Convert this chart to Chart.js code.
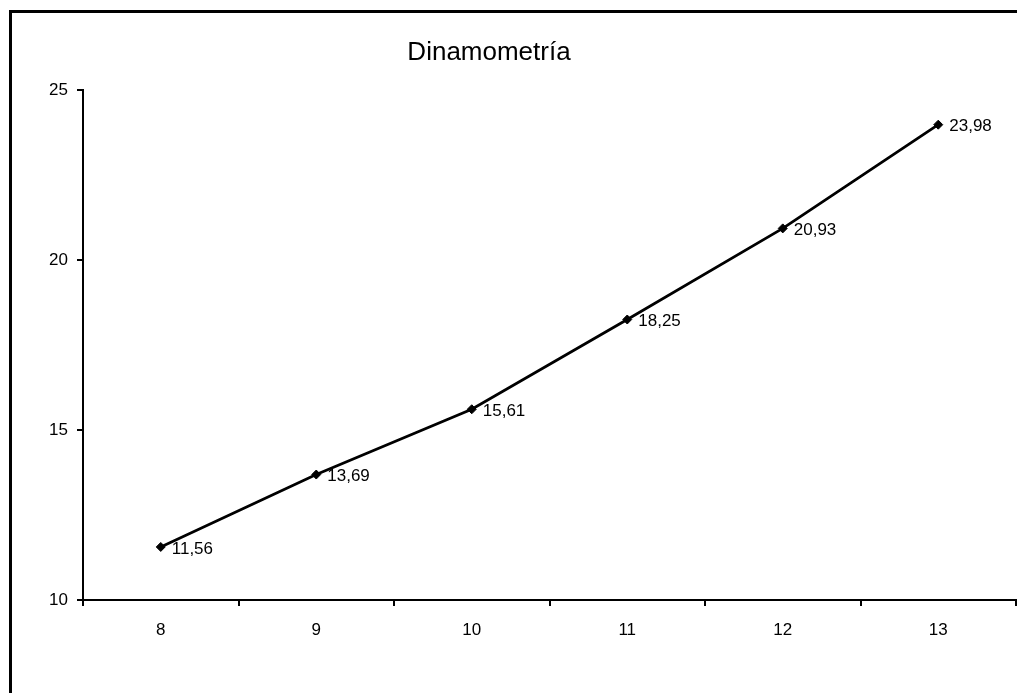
<!DOCTYPE html>
<html>
<head>
<meta charset="utf-8">
<title>Dinamometría</title>
<script src="https://cdn.jsdelivr.net/npm/chart.js@4/dist/chart.umd.min.js"></script>
<style>
  html, body { margin: 0; padding: 0; background: #fff; }
  #wrap { width: 1017px; height: 693px; }
</style>
</head>
<body>
<div id="wrap"><canvas id="chart" width="1017" height="693"></canvas></div>
<script>
// edades (años) y fuerza media
const ages = ['8', '9', '10', '11', '12', '13'];
const strength = [11.56, 13.69, 15.61, 18.25, 20.93, 23.98];
const yTicks = [10, 15, 20, 25];
const chartTitle = 'Dinamometría';

const FONT = "'Liberation Sans', Arial, sans-serif";

// marco negro (lados izquierdo y superior) y título
const frame = {
    id: 'frame',
    beforeDraw(chart) {
        const ctx = chart.ctx;
        ctx.save();
        ctx.fillStyle = '#000';
        ctx.fillRect(9, 10, 3, chart.height - 10);
        ctx.fillRect(9, 10, chart.width - 9, 3);
        ctx.font = '26px ' + FONT;
        ctx.textAlign = 'center';
        ctx.textBaseline = 'middle';
        ctx.fillText(chartTitle, 489, 53);
        ctx.restore();
    }
};

// etiquetas de valor a la derecha de cada punto
const valueLabels = {
    id: 'valueLabels',
    afterDatasetsDraw(chart) {
        const ctx = chart.ctx;
        const meta = chart.getDatasetMeta(0);
        ctx.save();
        ctx.font = '17px ' + FONT;
        ctx.fillStyle = '#000';
        ctx.textAlign = 'left';
        ctx.textBaseline = 'middle';
        meta.data.forEach((pt, i) => {
            const txt = strength[i].toFixed(2).replace('.', ',');
            ctx.fillText(txt, pt.x + 11, pt.y + 2);
        });
        ctx.restore();
    }
};

new Chart(document.getElementById('chart'), {
    type: 'line',
    data: {
        labels: ages,
        datasets: [{
            data: strength,
            borderColor: '#000',
            borderWidth: 2.8,
            tension: 0,
            pointStyle: 'rectRot',
            pointRadius: 4.5,
            pointBackgroundColor: '#000',
            pointBorderColor: '#000',
            pointBorderWidth: 1
        }]
    },
    options: {
        responsive: false,
        animation: false,
        layout: {
            autoPadding: false,
            padding: { left: 0, right: 1, top: 90, bottom: 0 }
        },
        plugins: {
            legend: { display: false },
            tooltip: { enabled: false },
            title: { display: false }
        },
        scales: {
            x: {
                offset: true,
                grid: {
                    offset: true,
                    drawOnChartArea: false,
                    drawTicks: true,
                    tickLength: 6,
                    color: '#000',
                    lineWidth: 2
                },
                border: { display: true, color: '#000', width: 2 },
                ticks: {
                    color: '#000',
                    padding: 14,
                    maxRotation: 0,
                    font: { family: FONT, size: 17 }
                },
                afterFit(scale) { scale.height = 93; }
            },
            y: {
                min: 10,
                max: 25,
                afterBuildTicks(scale) {
                    scale.ticks = yTicks.map(v => ({ value: v }));
                },
                grid: {
                    drawOnChartArea: false,
                    drawTicks: true,
                    tickLength: 6,
                    color: '#000',
                    lineWidth: 2
                },
                border: { display: true, color: '#000', width: 2 },
                ticks: {
                    color: '#000',
                    padding: 9,
                    font: { family: FONT, size: 17 }
                },
                afterFit(scale) { scale.width = 83; }
            }
        }
    },
    plugins: [frame, valueLabels]
});
</script>
</body>
</html>
